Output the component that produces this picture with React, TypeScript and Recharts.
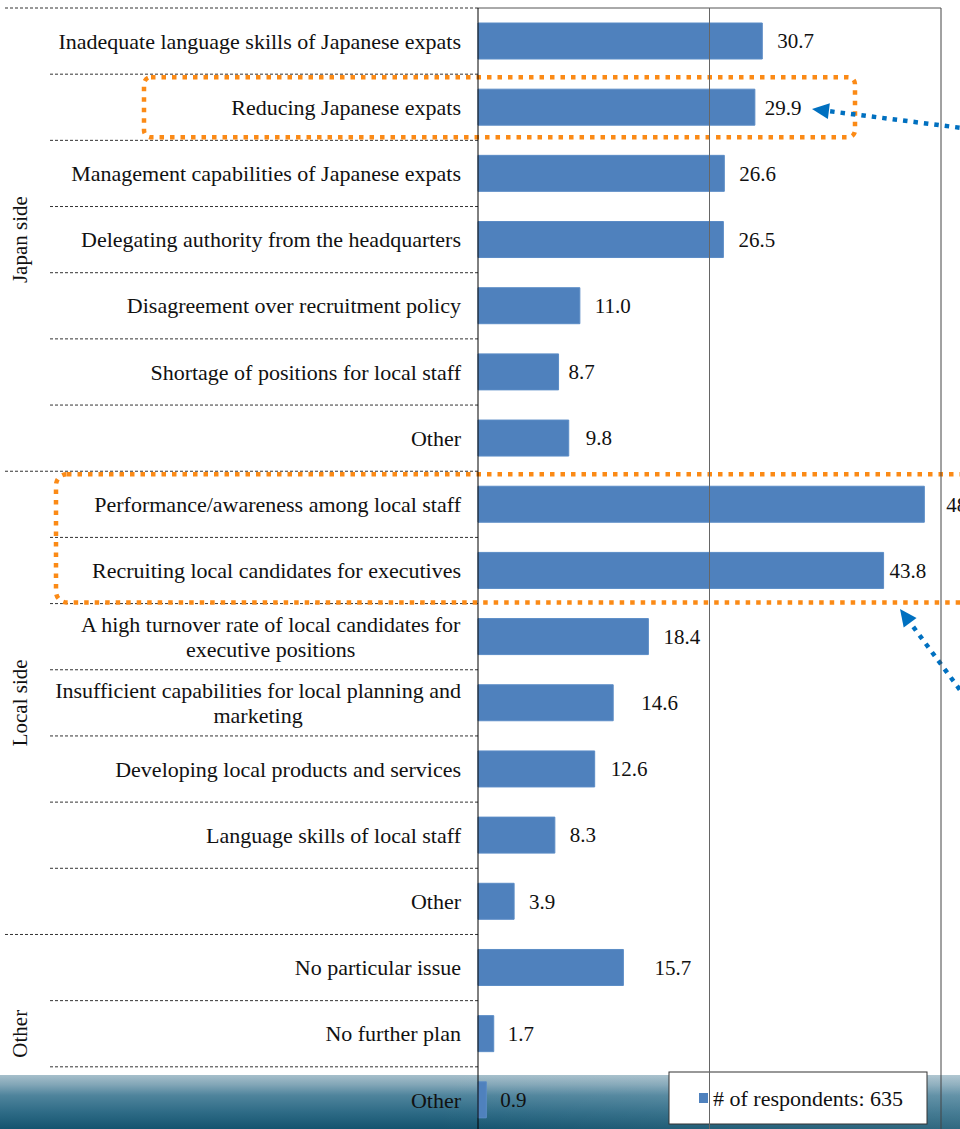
import { BarChart, Bar, XAxis, YAxis, ReferenceLine, LabelList, Customized } from "recharts"

// rows, top to bottom ("\n" = line break in the axis label)
const categories = [
    "Inadequate language skills of Japanese expats",
    "Reducing Japanese expats",
    "Management capabilities of Japanese expats",
    "Delegating authority from the headquarters",
    "Disagreement over recruitment policy",
    "Shortage of positions for local staff",
    "Other",
    "Performance/awareness among local staff",
    "Recruiting local candidates for executives",
    "A high turnover rate of local candidates for\nexecutive positions",
    "Insufficient capabilities for local planning and\nmarketing",
    "Developing local products and services",
    "Language skills of local staff",
    "Other",
    "No particular issue",
    "No further plan",
    "Other",
]
const shares = [30.7, 29.9, 26.6, 26.5, 11.0, 8.7, 9.8, 48.2, 43.8, 18.4, 14.6, 12.6, 8.3, 3.9, 15.7, 1.7, 0.9]
const groupNames = ["Japan side", "Local side", "Other"]
const groupSizes = [7, 7, 3]
const xTicks = [0, 25, 50]
const respondents = 635

// value labels were nudged by hand in the original
const labelShift = [15, 10, 15, 15, 15, 10, 17, 22, 6, 15, 28, 16, 15, 15, 31, 14, 14]

const FONT = "'Liberation Serif', 'Times New Roman', serif"
const BLUE = "#4f81bd"
const ORANGE = "#fb8a16"
const ARROW = "#0070c0"

const W = 960
const H = 1133
const PLOT_LEFT = 478
const PLOT_RIGHT = 941
const PLOT_TOP = 8
const PLOT_H = H - PLOT_TOP
const BAND = PLOT_H / categories.length
const LABEL_RIGHT = 461

const data = categories.map((c, i) => ({ id: i, label: c, value: shares[i] }))

let ctx: CanvasRenderingContext2D | null = null
function textWidth(s: string, size: number) {
    if (!ctx) ctx = document.createElement("canvas").getContext("2d")
    if (!ctx) return s.length * size * 0.45
    ctx.font = `${size}px 'Liberation Serif'`
    return ctx.measureText(s).width
}

function CategoryTick(props: any) {
    const { y, payload } = props
    const lines = categories[payload.value].split("\n")
    const blockW = Math.max(...lines.map(l => textWidth(l, 22)))
    const cx = LABEL_RIGHT - blockW / 2
    const lh = 25
    const y0 = y - ((lines.length - 1) * lh) / 2
    return (
        <text fontFamily={FONT} fontSize={22} fill="#111" textAnchor="middle">
            {lines.map((l, i) => (
                <tspan key={i} x={cx} y={y0 + i * lh} dy="0.35em">{l}</tspan>
            ))}
        </text>
    )
}

function ValueLabel(props: any) {
    const { x, y, width, height, value, index } = props
    return (
        <text
            x={x + width + labelShift[index]}
            y={y + height / 2}
            dy="0.35em"
            fontFamily={FONT}
            fontSize={21}
            fill="#111"
        >
            {Number(value).toFixed(1)}
        </text>
    )
}

function Arrow({ x1, y1, x2, y2 }: { x1: number, y1: number, x2: number, y2: number }) {
    const len = Math.hypot(x2 - x1, y2 - y1)
    const ux = (x2 - x1) / len
    const uy = (y2 - y1) / len
    const bx = x2 - ux * 17
    const by = y2 - uy * 17
    const px = -uy * 8
    const py = ux * 8
    return (
        <g>
            <line x1={x1} y1={y1} x2={bx} y2={by} stroke={ARROW} strokeWidth={4.5} strokeDasharray="4.5 6" />
            <polygon points={`${x2},${y2} ${bx + px},${by + py} ${bx - px},${by - py}`} fill={ARROW} />
        </g>
    )
}

function Overlay() {
    // row boundaries; group boundaries reach further left
    const starts: number[] = []
    let acc = 0
    groupSizes.forEach(n => { starts.push(acc); acc += n })
    const seps = categories.map((_, k) => k)
    return (
        <g>
            <line x1={PLOT_LEFT} y1={PLOT_TOP} x2={PLOT_RIGHT} y2={PLOT_TOP} stroke="#555" />
            {seps.map(k => (
                <line
                    key={k}
                    x1={starts.includes(k) ? 5 : 50}
                    x2={PLOT_LEFT}
                    y1={PLOT_TOP + k * BAND}
                    y2={PLOT_TOP + k * BAND}
                    stroke="#333"
                    strokeDasharray="3 2"
                />
            ))}
            {groupNames.map((g, i) => {
                const cy = PLOT_TOP + (starts[i] + groupSizes[i] / 2) * BAND
                return (
                    <text
                        key={g}
                        x={20}
                        y={cy}
                        transform={`rotate(-90 20 ${cy})`}
                        textAnchor="middle"
                        dy="0.35em"
                        fontFamily={FONT}
                        fontSize={21}
                        fill="#111"
                    >
                        {g}
                    </text>
                )
            })}

            {/* highlight boxes */}
            <rect x={144} y={PLOT_TOP + 1 * BAND + 3} width={711} height={BAND - 6} rx={7}
                fill="none" stroke={ORANGE} strokeWidth={4.5} strokeDasharray="4.5 6" />
            <rect x={56} y={PLOT_TOP + 7 * BAND + 3} width={960} height={2 * BAND - 4} rx={11}
                fill="none" stroke={ORANGE} strokeWidth={4.5} strokeDasharray="4.5 6" />

            <Arrow x1={970} y1={129} x2={812} y2={109} />
            <Arrow x1={966} y1={698} x2={900} y2={609} />

            {/* legend */}
            <rect x={669} y={1072} width={258} height={52} fill="#fff" stroke="#333" />
            <rect x={699} y={1093} width={9} height={10} fill={BLUE} />
            <text x={713} y={1098} dy="0.35em" fontFamily={FONT} fontSize={22} fill="#111">
                {`# of respondents: ${respondents}`}
            </text>
        </g>
    )
}

export default function App() {
    return (
        <div style={{ position: "relative", width: W, height: 1129, overflow: "hidden", background: "#fff" }}>
            <style>{`body{margin:0;overflow:hidden}`}</style>
            <div
                style={{
                    position: "absolute",
                    left: 0,
                    top: 1075,
                    width: W,
                    height: 60,
                    background:
                        "linear-gradient(90deg, rgba(255,255,255,0) 45%, rgba(255,255,255,0.12) 100%), " +
                        "linear-gradient(180deg, #a6bfcb 0%, #82a6b7 16%, #4f849c 34%, #2e6b86 62%, #0c4b66 100%)",
                }}
            />
            <div style={{ position: "absolute", left: 0, top: 0 }}>
                <BarChart
                    layout="vertical"
                    width={W}
                    height={H}
                    data={data}
                    margin={{ top: PLOT_TOP, right: W - PLOT_RIGHT, bottom: 0, left: 0 }}
                >
                    <XAxis type="number" domain={[0, 50]} ticks={xTicks} hide />
                    <YAxis
                        type="category"
                        dataKey="id"
                        width={PLOT_LEFT}
                        interval={0}
                        tickLine={false}
                        axisLine={{ stroke: "#000" }}
                        tick={<CategoryTick />}
                    />
                    <ReferenceLine x={xTicks[1]} stroke="#666" />
                    <ReferenceLine x={xTicks[2]} stroke="#444" />
                    <Bar dataKey="value" fill={BLUE} stroke="#5b8cc6" barSize={36} isAnimationActive={false}>
                        <LabelList dataKey="value" content={<ValueLabel />} />
                    </Bar>
                    <Customized component={<Overlay />} />
                </BarChart>
            </div>
        </div>
    )
}
